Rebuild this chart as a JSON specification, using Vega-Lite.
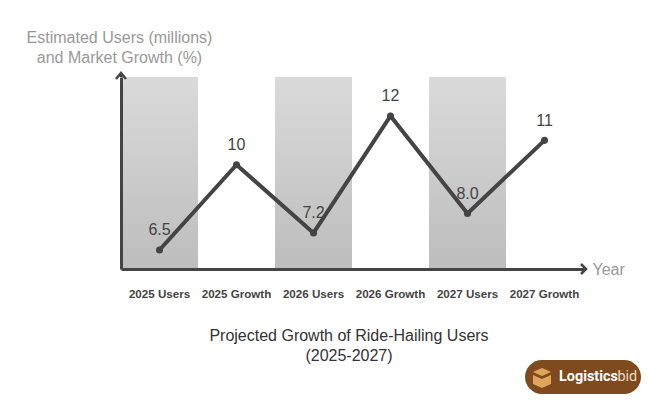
{
  "$schema": "https://vega.github.io/schema/vega-lite/v6.json",
  "width": 462,
  "height": 192,
  "autosize": {"type": "none"},
  "padding": {"left": 121, "top": 77, "right": 67, "bottom": 136},
  "background": "white",
  "config": {"view": {"stroke": null}, "font": "Liberation Sans"},
  "title": {
    "text": ["Projected Growth of Ride-Hailing Users", "(2025-2027)"],
    "orient": "bottom",
    "anchor": "middle",
    "dx": -3,
    "offset": -66,
    "font": "Liberation Sans",
    "fontSize": 16,
    "fontWeight": "normal",
    "color": "#333333",
    "lineHeight": 20
  },
  "data": {
    "values": [
      {"label": "2025 Users", "kind": "Users", "value": 6.5, "text": "6.5"},
      {"label": "2025 Growth", "kind": "Growth", "value": 10, "text": "10"},
      {"label": "2026 Users", "kind": "Users", "value": 7.2, "text": "7.2"},
      {"label": "2026 Growth", "kind": "Growth", "value": 12, "text": "12"},
      {"label": "2027 Users", "kind": "Users", "value": 8.0, "text": "8.0"},
      {"label": "2027 Growth", "kind": "Growth", "value": 11, "text": "11"}
    ]
  },
  "encoding": {
    "x": {
      "field": "label",
      "type": "nominal",
      "sort": ["2025 Users", "2025 Growth", "2026 Users", "2026 Growth", "2027 Users", "2027 Growth"],
      "scale": {
        "domain": ["2025 Users", "2025 Growth", "2026 Users", "2026 Growth", "2027 Users", "2027 Growth"],
        "paddingInner": 0,
        "paddingOuter": 0
      },
      "axis": {
        "zindex": 1,
        "labelAngle": 0,
        "labelFontSize": 11.6,
        "labelFontWeight": "bold",
        "labelColor": "#444444",
        "labelPadding": 19,
        "ticks": false,
        "domainColor": "#444444",
        "domainWidth": 3,
        "title": "Year",
        "titleFontSize": 16,
        "titleFontWeight": "normal",
        "titleColor": "#999999",
        "titleX": 471,
        "titleY": 0,
        "titleAlign": "left",
        "titleBaseline": "middle"
      }
    }
  },
  "layer": [
    {
      "transform": [{"filter": "datum.kind === 'Users'"}],
      "mark": {
        "type": "bar",
        "fill": {
          "gradient": "linear",
          "x1": 0, "y1": 0, "x2": 0, "y2": 1,
          "stops": [
            {"offset": 0, "color": "#dadada"},
            {"offset": 1, "color": "#bdbdbd"}
          ]
        }
      }
    },
    {
      "mark": {"type": "line", "stroke": "#444444", "strokeWidth": 4},
      "encoding": {
        "y": {
          "field": "value",
          "type": "quantitative",
          "scale": {"domain": [5.72, 13.6], "nice": false, "zero": false},
          "axis": {
            "zindex": 1,
            "grid": false,
            "ticks": false,
            "labels": false,
            "domainColor": "#444444",
            "domainWidth": 3,
            "title": ["Estimated Users (millions)", "and Market Growth (%)"],
            "titleFontSize": 16,
            "titleFontWeight": "normal",
            "titleColor": "#999999",
            "titleAngle": 0,
            "titleAlign": "center",
            "titleBaseline": "alphabetic",
            "titleLineHeight": 20,
            "titleX": -2,
            "titleY": -35
          }
        }
      }
    },
    {
      "mark": {"type": "point", "filled": true, "color": "#444444", "opacity": 1, "size": 50},
      "encoding": {"y": {"field": "value", "type": "quantitative"}}
    },
    {
      "mark": {"type": "text", "dy": -19.5, "fontSize": 16, "color": "#444444"},
      "encoding": {
        "y": {"field": "value", "type": "quantitative"},
        "text": {"field": "text"}
      }
    },
    {
      "transform": [{"filter": "datum.label === '2025 Users'"}],
      "mark": {
        "type": "point",
        "size": 4,
        "shape": "M-5,2L0,-4L5,2M0,-4L0,0",
        "fill": null,
        "filled": false,
        "stroke": "#444444",
        "strokeWidth": 2.5,
        "opacity": 1
      },
      "encoding": {
        "x": {"field": "label", "type": "nominal", "bandPosition": 0},
        "y": {"datum": 13.6}
      }
    },
    {
      "transform": [{"filter": "datum.label === '2027 Growth'"}],
      "mark": {
        "type": "point",
        "size": 4,
        "shape": "M0,0L3,0M-2,-5L3,0L-2,5",
        "fill": null,
        "filled": false,
        "stroke": "#444444",
        "strokeWidth": 2.5,
        "opacity": 1
      },
      "encoding": {
        "x": {"field": "label", "type": "nominal", "bandPosition": 1},
        "y": {"datum": 5.72}
      }
    },
    {
      "transform": [{"filter": "datum.label === '2027 Growth'"}],
      "mark": {
        "type": "point",
        "size": 4,
        "shape": "M-41,91L41,91A17,17,0,0,1,41,125L-41,125A17,17,0,0,1,-41,91Z",
        "filled": true,
        "fill": "#7f4a1e",
        "stroke": null,
        "opacity": 1,
        "clip": false
      },
      "encoding": {
        "x": {"field": "label", "type": "nominal", "bandPosition": 1},
        "y": {"datum": 5.72}
      }
    },
    {
      "transform": [{"filter": "datum.label === '2027 Growth'"}],
      "mark": {
        "type": "point",
        "size": 4,
        "shape": "M-41,99L-50,103L-41,107L-32,103ZM-50,106L-41,110L-32,106L-32,115L-41,119L-50,115Z",
        "filled": true,
        "fill": "#dfa55c",
        "stroke": null,
        "opacity": 1
      },
      "encoding": {
        "x": {"field": "label", "type": "nominal", "bandPosition": 1},
        "y": {"datum": 5.72}
      }
    },
    {
      "transform": [{"filter": "datum.label === '2027 Growth'"}],
      "mark": {
        "type": "text",
        "text": "Logistics",
        "font": "Roboto",
        "fontWeight": "bold",
        "fontSize": 14.4,
        "color": "#ffffff",
        "align": "left",
        "baseline": "middle",
        "dx": -24,
        "dy": 108
      },
      "encoding": {
        "x": {"field": "label", "type": "nominal", "bandPosition": 1},
        "y": {"datum": 5.72}
      }
    },
    {
      "transform": [{"filter": "datum.label === '2027 Growth'"}],
      "mark": {
        "type": "text",
        "text": "bid",
        "font": "Roboto",
        "fontWeight": "normal",
        "fontSize": 14.4,
        "color": "#ecdcc8",
        "align": "left",
        "baseline": "middle",
        "dx": 34.5,
        "dy": 108
      },
      "encoding": {
        "x": {"field": "label", "type": "nominal", "bandPosition": 1},
        "y": {"datum": 5.72}
      }
    }
  ]
}
